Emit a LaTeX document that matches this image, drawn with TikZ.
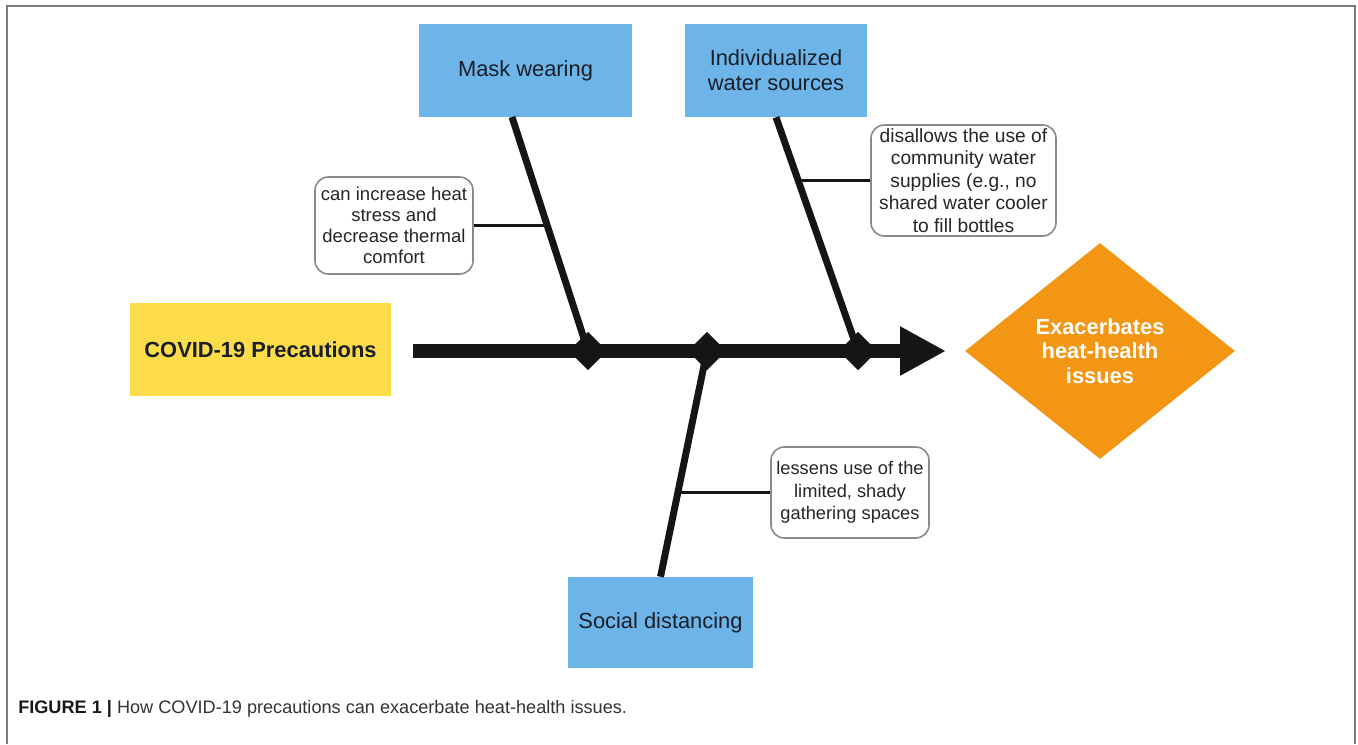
\documentclass[tikz,border=0pt]{standalone}
\usepackage{fontspec}
\setmainfont{Liberation Sans}
\usetikzlibrary{shapes.geometric,arrows.meta,calc}
\definecolor{boxblue}{HTML}{6DB5E9}
\definecolor{covyellow}{HTML}{FDDC4A}
\definecolor{effectorange}{HTML}{F29614}
\definecolor{textdark}{HTML}{1A1E28}
\definecolor{notegray}{HTML}{8A8A8A}
\definecolor{bonecol}{HTML}{151515}
\definecolor{framegray}{HTML}{7A7A7A}
\definecolor{captext}{HTML}{333333}
\begin{document}
\begin{tikzpicture}[x=0.75pt,y=-0.75pt,
  cause/.style={rectangle, fill=boxblue, draw=none, inner sep=0pt, align=center,
    text=textdark, font=\fontsize{16.4}{18.75}\selectfont},
  note/.style={rectangle, rounded corners=10pt, draw=notegray, line width=1.2pt,
    fill=white, inner sep=0pt, align=center, text=black!85},
  bone/.style={draw=bonecol, line width=5.2pt},
  twig/.style={draw=bonecol, line width=2.2pt},
  spine/.style={draw=bonecol, line width=10.5pt},
  joint/.style={diamond, fill=bonecol, draw=none, inner sep=0pt,
    minimum width=29pt, minimum height=29pt}]
\useasboundingbox (0,0) rectangle (1358,744);
% frame
\draw[framegray, line width=1.5pt] (7,744) -- (7,6) -- (1355,6) -- (1355,744);

% nodes
\node[cause, minimum width=159.75pt, minimum height=69.75pt] (mask) at (525.5,70.5) {Mask wearing};
\node[cause, minimum width=136.5pt, minimum height=69.75pt] (water) at (776,70.5) {Individualized\\water sources};
\node[cause, minimum width=138.75pt, minimum height=68.25pt] (social) at (660.5,622.5) {Social distancing};
\node[rectangle, fill=covyellow, inner sep=0pt, minimum width=195.75pt, minimum height=69.75pt,
  font=\fontsize{16.4}{18.75}\selectfont\bfseries, text=textdark] (cov) at (260.5,349.5) {COVID-19 Precautions};
\node[diamond, fill=effectorange, inner sep=0pt, minimum width=202.5pt, minimum height=162pt,
  align=center, text=white, font=\fontsize{16.4}{18.4}\selectfont\bfseries] (effect) at (1100,351)
  {Exacerbates\\heat-health\\issues};

\node[note, minimum width=118.5pt, minimum height=72.75pt, font=\fontsize{13.9}{15.75}\selectfont] (note1) at (394,225.5)
  {can increase heat\\stress and\\decrease thermal\\comfort};
\node[note, minimum width=138.75pt, minimum height=83.25pt, font=\fontsize{14.4}{16.9}\selectfont] (note2) at (963.5,180.5)
  {disallows the use of\\community water\\supplies (e.g., no\\shared water cooler\\to fill bottles};
\node[note, minimum width=118.5pt, minimum height=68.25pt, font=\fontsize{13.7}{16.9}\selectfont] (note3) at (850,492.5)
  {lessens use of the\\limited, shady\\gathering spaces};

% spine coordinates
\coordinate (tip) at (946,351);
\coordinate (m1) at (512,117);
\coordinate (d1pos) at (588,351);
\coordinate (d2pos) at (707,351);
\coordinate (d3pos) at (858,351);

% bones
\draw[bone] (m1) -- (d1pos);
\draw[bone] (water.south) -- (d3pos);
\draw[bone] (d2pos) -- (social.north);

% twigs
\coordinate (j1) at ($(m1)!0.4615!(d1pos)$);
\coordinate (j2) at ($(water.south)!0.2714!(d3pos)$);
\coordinate (j3) at ($(d2pos)!0.626!(social.north)$);
\draw[twig] (note1.east) -- (note1.east -| j1);
\draw[twig] (note2.west) -- (note2.west -| j2);
\draw[twig] (note3.west) -- (note3.west -| j3);

% spine
\draw[spine, -{Triangle[length=34.5pt,width=34.5pt]}] ($(cov.east |- tip)+(22,0)$) -- (tip);

% joints
\node[joint] (d1) at (d1pos) {};
\node[joint] (d2) at (d2pos) {};
\node[joint] (d3) at (d3pos) {};

% caption
\node[anchor=base west, inner sep=0pt, text=captext, font=\fontsize{13.6}{15}\selectfont] (cap) at (18,713)
  {\textcolor{black!90}{\bfseries FIGURE 1 |} How COVID-19 precautions can exacerbate heat-health issues.};
\end{tikzpicture}
\end{document}
